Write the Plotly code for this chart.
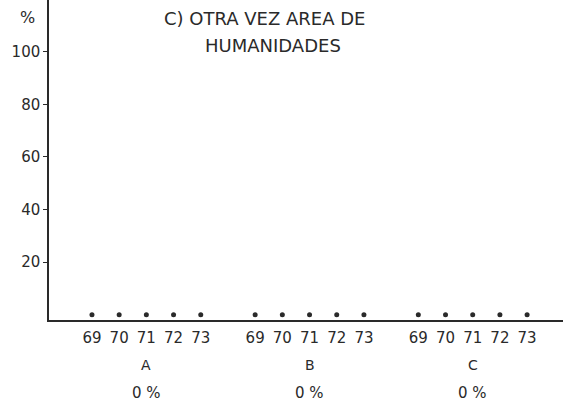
import plotly.graph_objects as go

# data
grupos = ["A", "B", "C"]
anios = ["69", "70", "71", "72", "73"]
valores_A = [0, 0, 0, 0, 0]
valores_B = [0, 0, 0, 0, 0]
valores_C = [0, 0, 0, 0, 0]
totales = ["0 %", "0 %", "0 %"]
y_ticks = [20, 40, 60, 80, 100]

series = [valores_A, valores_B, valores_C]
ink = "#2a2a2a"
fuente = "DejaVu Sans"

fig = go.Figure()
tickvals, ticktext = [], []
for g, vals in enumerate(series):
    xs = [g * 6 + i for i in range(len(anios))]
    tickvals += xs
    ticktext += anios
    fig.add_trace(go.Scatter(
        x=xs, y=vals, mode="markers",
        marker=dict(color=ink, size=5),
        showlegend=False, hoverinfo="skip"
    ))

# group letters and totals under the years
for g, nombre in enumerate(grupos):
    cx = g * 6 + 2
    fig.add_annotation(x=cx, y=0, xref="x", yref="paper", text=nombre,
                       showarrow=False, yshift=-45, yanchor="middle",
                       font=dict(family=fuente, size=14, color=ink))
    fig.add_annotation(x=cx, y=0, xref="x", yref="paper", text=totales[g],
                       showarrow=False, yshift=-73, yanchor="middle",
                       font=dict(family=fuente, size=15, color=ink))

# "%" above the y axis
fig.add_annotation(x=0, y=113, xref="paper", yref="y", text="%",
                   showarrow=False, xanchor="right", xshift=-12,
                   font=dict(family=fuente, size=16, color=ink))

# title, two lines
fig.add_annotation(x=0.42, y=1, xref="paper", yref="paper", yanchor="middle",
                   yshift=-18, text="C) OTRA VEZ AREA DE", showarrow=False,
                   font=dict(family=fuente, size=18, color=ink))
fig.add_annotation(x=0.435, y=1, xref="paper", yref="paper", yanchor="middle",
                   yshift=-45, text="HUMANIDADES", showarrow=False,
                   font=dict(family=fuente, size=18, color=ink))

fig.update_layout(
    width=563, height=404,
    margin=dict(l=49, r=0, t=0, b=84),
    paper_bgcolor="white", plot_bgcolor="white",
    xaxis=dict(
        range=[-1.58, 17.32], tickvals=tickvals, ticktext=ticktext,
        showgrid=False, zeroline=False, showline=True, linecolor=ink,
        linewidth=1.5, ticks="", ticklen=0, ticklabelstandoff=3,
        tickfont=dict(family=fuente, size=15, color=ink)
    ),
    yaxis=dict(
        range=[-2, 119.7], tickvals=y_ticks,
        showgrid=False, zeroline=False, showline=True, linecolor=ink,
        linewidth=1.5, ticks="outside", ticklen=4, tickcolor=ink,
        tickfont=dict(family=fuente, size=15, color=ink)
    )
)

fig.write_html("out.html", config={"displayModeBar": False},
               post_script="document.body.style.margin='0';")
